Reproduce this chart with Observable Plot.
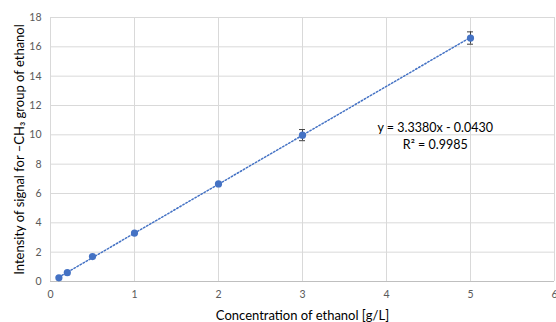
<!DOCTYPE html>
<html><head><meta charset="utf-8">
<script src="https://cdn.jsdelivr.net/npm/d3@7"></script>
<script src="https://cdn.jsdelivr.net/npm/@observablehq/plot@0.6"></script>
<style>
body{margin:0;background:#fff;}
svg{font-family:Lato,"Open Sans",sans-serif;}
</style>
</head><body><div id="chart"></div>
<script>
const concentrations = [0.1, 0.2, 0.5, 1, 2, 3, 5];
const intensities = [0.25, 0.6, 1.7, 3.3, 6.65, 9.98, 16.6];
const errors = [0, 0, 0, 0, 0, 0.38, 0.42];
const slope = 3.338, intercept = -0.043;
const xTicks = [0, 1, 2, 3, 4, 5, 6];
const yTicks = [0, 2, 4, 6, 8, 10, 12, 14, 16, 18];
const equationLines = ["y = 3.3380x - 0.0430", "R² = 0.9985"];

const pts = concentrations.map((c, i) => ({x: c, y: intensities[i], e: errors[i]}));
const errPts = pts.filter(d => d.e > 0);
const caps = errPts.flatMap(d => [{x: d.x, y: d.y - d.e}, {x: d.x, y: d.y + d.e}]);
const trend = [concentrations[0], concentrations[concentrations.length - 1]].map(x => ({x, y: slope * x + intercept}));

const plot = Plot.plot({
  width: 556, height: 322,
  marginLeft: 50, marginRight: 2, marginTop: 17, marginBottom: 41,
  style: {fontSize: "10px", color: "#595959", background: "#fff"},
  x: {type: "linear", domain: [0, 6], ticks: xTicks, label: null},
  y: {type: "linear", domain: [0, 18], ticks: yTicks, label: null},
  marks: [
    Plot.gridX(xTicks, {stroke: "#d9d9d9", strokeOpacity: 1, strokeWidth: 1}),
    Plot.gridY(yTicks, {stroke: "#d9d9d9", strokeOpacity: 1, strokeWidth: 1}),
    Plot.ruleY([0], {stroke: "#bfbfbf"}),
    Plot.axisX(xTicks, {tickSize: 0, tickPadding: 9, fill: "#595959", fontSize: 10.5}),
    Plot.axisY(yTicks, {tickSize: 0, tickPadding: 9, fill: "#595959", fontSize: 10.5}),
    Plot.line(trend, {x: "x", y: "y", stroke: "#4472c4", strokeWidth: 1.5, strokeDasharray: "1.5,2"}),
    Plot.ruleX(errPts, {x: "x", y1: d => d.y - d.e, y2: d => d.y + d.e, stroke: "#404040", strokeWidth: 1}),
    Plot.ruleY(caps, {y: "y", x1: "x", x2: "x", insetLeft: -3, insetRight: -3, stroke: "#404040", strokeWidth: 1}),
    Plot.dot(pts, {x: "x", y: "y", r: 3.6, fill: "#4472c4", stroke: "none"}),
    Plot.text([equationLines[0]], {x: 4.58, y: 10.5, text: d => d, fill: "#000", fontSize: 12.5}),
    Plot.text([equationLines[1]], {x: 4.58, y: 9.3, text: d => d, fill: "#000", fontSize: 12.5}),
    Plot.text(["Concentration of ethanol [g/L]"], {frameAnchor: "bottom", dy: 38, text: d => d, fill: "#000", fontSize: 13}),
    Plot.text(["Intensity of signal for –CH₃ group of ethanol"], {frameAnchor: "left", textAnchor: "middle", dx: -31, rotate: -90, text: d => d, fill: "#000", fontSize: 13})
  ]
});
document.getElementById("chart").appendChild(plot);
</script>
</body></html>
